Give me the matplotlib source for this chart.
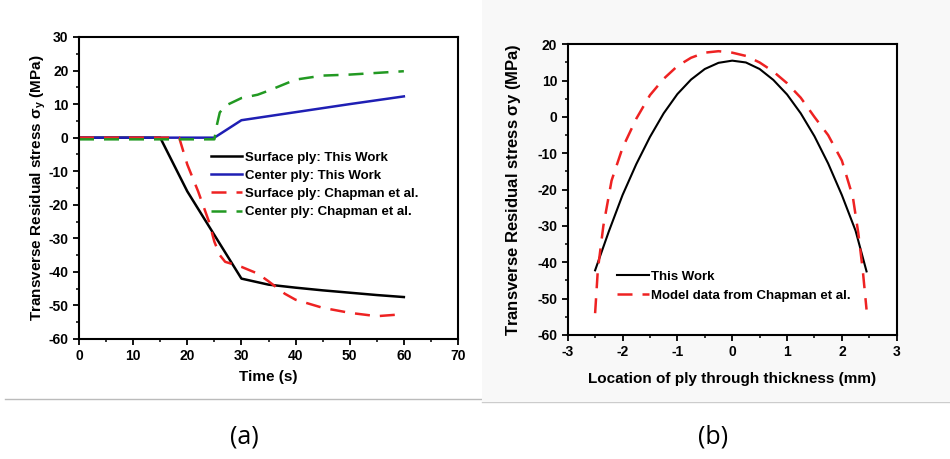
import matplotlib
matplotlib.use("Agg")
import matplotlib.pyplot as plt
from matplotlib.ticker import MultipleLocator
from matplotlib.patches import Rectangle
from matplotlib.lines import Line2D

plt.rcParams['font.family'] = ['Liberation Sans', 'DejaVu Sans']
plt.rcParams['font.weight'] = 'bold'
plt.rcParams['axes.unicode_minus'] = False
plt.rcParams['mathtext.fontset'] = 'custom'
plt.rcParams['mathtext.rm'] = 'Liberation Sans:bold'
plt.rcParams['mathtext.it'] = 'Liberation Sans:bold'
plt.rcParams['mathtext.bf'] = 'Liberation Sans:bold'

# (a) stress history over time
time_surf_tw = [0, 15, 20, 25, 30, 35, 40, 45, 50, 55, 60]
stress_surf_tw = [0, 0, -16, -29, -42, -43.8, -44.7, -45.5, -46.2, -46.9, -47.5]

time_cent_tw = [0, 25, 30, 40, 50, 60]
stress_cent_tw = [0, 0, 5.2, 7.6, 10.0, 12.3]

time_surf_ch = [0, 18.5, 20, 22, 24, 25, 26, 27, 30, 33, 35, 38, 40, 45, 50, 55, 60]
stress_surf_ch = [0, 0, -8, -16, -25, -31, -35, -37, -38.5, -40.5, -42.8, -46.5, -48.3, -50.7, -52.2, -53.2, -52.6]

time_cent_ch = [0, 25, 25.5, 26, 27, 30, 33, 35, 40, 45, 50, 55, 60]
stress_cent_ch = [-0.5, -0.5, 4, 7.5, 9.5, 11.8, 12.8, 14.0, 17.3, 18.5, 18.8, 19.3, 19.8]

# (b) stress through the thickness
loc_tw = [-2.5, -2.25, -2, -1.75, -1.5, -1.25, -1, -0.75, -0.5, -0.25, 0,
          0.25, 0.5, 0.75, 1, 1.25, 1.5, 1.75, 2, 2.25, 2.45]
stress_tw = [-42.2, -31.5, -21.5, -13, -5.5, 1, 6.3, 10.3, 13.2, 14.9, 15.5,
             15, 13.2, 10.2, 6.2, 1, -5.3, -12.8, -21.5, -31.3, -42.5]

loc_ch = [-2.5, -2.45, -2.35, -2.2, -2.0, -1.75, -1.5, -1.25, -1.0, -0.75, -0.5, -0.25,
          0, 0.25, 0.5, 0.75, 1.0, 1.25, 1.5, 1.75, 2.0, 2.2, 2.3, 2.38, 2.45]
stress_ch = [-54, -42, -30, -17.5, -8.5, -0.5, 6, 10.5, 14, 16.3, 17.7, 18.1,
             17.7, 16.8, 15, 12.5, 9.3, 5.3, 0, -5, -12, -22, -32, -42, -53]

W, H = 950, 459
fig = plt.figure(figsize=(W / 100, H / 100), dpi=100)

# panel backgrounds
fig.patches.append(Rectangle((482 / W, 1 - 402 / H), 468 / W, 402 / H,
                             transform=fig.transFigure, facecolor='#f8f8f8',
                             edgecolor='none', zorder=-10))
fig.lines.append(Line2D([5 / W, 482 / W], [1 - 399 / H] * 2, transform=fig.transFigure,
                        color='#bbbbbb', lw=1, zorder=-10))
fig.lines.append(Line2D([482 / W, 1], [1 - 402 / H] * 2, transform=fig.transFigure,
                        color='#cccccc', lw=1, zorder=-10))


def style_axes(ax):
    for s in ax.spines.values():
        s.set_linewidth(1.5)
    ax.tick_params(which='major', direction='out', length=4, width=1.3, labelsize=10)
    ax.tick_params(which='minor', direction='out', length=2.5, width=1.1)
    ax.set_facecolor('white')


ax1 = fig.add_axes([79 / W, 1 - 339 / H, 379 / W, 302 / H])
ax1.plot(time_surf_tw, stress_surf_tw, color='black', lw=1.8, label='Surface ply: This Work')
ax1.plot(time_cent_tw, stress_cent_tw, color='#1f1fb4', lw=1.8, label='Center ply: This Work')
ax1.plot(time_surf_ch, stress_surf_ch, color='#ee2222', lw=1.8, dashes=(6, 4),
         label='Surface ply: Chapman et al.')
ax1.plot(time_cent_ch, stress_cent_ch, color='#229922', lw=1.8, dashes=(6, 4),
         label='Center ply: Chapman et al.')
ax1.set_xlim(0, 70)
ax1.set_ylim(-60, 30)
ax1.xaxis.set_major_locator(MultipleLocator(10))
ax1.xaxis.set_minor_locator(MultipleLocator(5))
ax1.yaxis.set_major_locator(MultipleLocator(10))
ax1.yaxis.set_minor_locator(MultipleLocator(5))
style_axes(ax1)
ax1.set_xlabel('Time (s)', fontsize=11, fontweight='bold', labelpad=5)
ax1.set_ylabel(r'Transverse Residual stress $\sigma_y$ (MPa)', fontsize=11,
               fontweight='bold')
ax1.yaxis.set_label_coords(-0.082, 0.5)
ax1.legend(loc='upper left', bbox_to_anchor=(0.33, 0.643), frameon=False, fontsize=9.5,
           handlelength=2.4, handletextpad=0.2, labelspacing=0.45, borderpad=0)

ax2 = fig.add_axes([567.7 / W, 1 - 335 / H, 329 / W, 290.7 / H])
ax2.plot(loc_tw, stress_tw, color='black', lw=1.5, label='This Work')
ax2.plot(loc_ch, stress_ch, color='#ee2222', lw=1.8, dashes=(6, 4),
         label='Model data from Chapman et al.')
ax2.set_xlim(-3, 3)
ax2.set_ylim(-60, 20)
ax2.xaxis.set_major_locator(MultipleLocator(1))
ax2.xaxis.set_minor_locator(MultipleLocator(0.5))
ax2.yaxis.set_major_locator(MultipleLocator(10))
ax2.yaxis.set_minor_locator(MultipleLocator(5))
style_axes(ax2)
ax2.set_xlabel('Location of ply through thickness (mm)', fontsize=11, fontweight='bold',
               labelpad=9)
ax2.set_ylabel(r'Transverse Residual stress $\sigma$y (MPa)', fontsize=12,
               fontweight='bold')
ax2.yaxis.set_label_coords(-0.136, 0.5)
ax2.legend(loc='upper left', bbox_to_anchor=(0.13, 0.245), frameon=False, fontsize=9.5,
           handlelength=2.4, handletextpad=0.2, labelspacing=0.55, borderpad=0)

fig.text(244 / W, 1 - 437 / H, '(a)', fontsize=18, fontweight='normal',
         family='Open Sans', ha='center', va='center')
fig.text(713 / W, 1 - 437 / H, '(b)', fontsize=18, fontweight='normal',
         family='Open Sans', ha='center', va='center')

fig.savefig('out.png', dpi=100, facecolor='white')
